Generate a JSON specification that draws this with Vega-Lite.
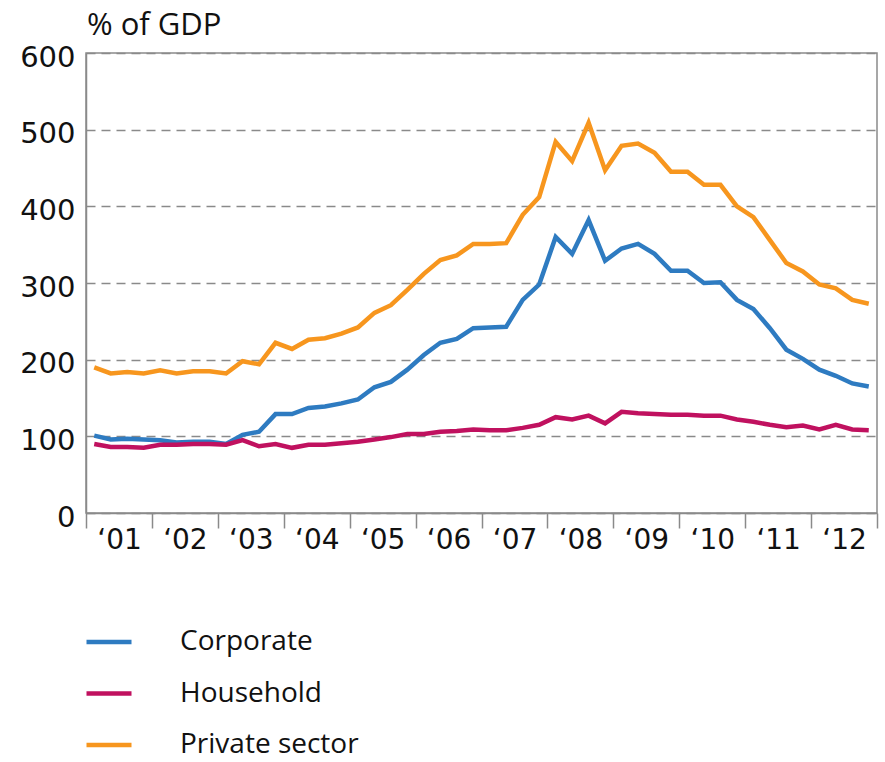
{
  "$schema": "https://vega.github.io/schema/vega-lite/v6.json",
  "autosize": "none",
  "width": 791,
  "height": 460,
  "padding": {"left": 86, "top": 53, "right": 8, "bottom": 249},
  "background": "white",
  "title": {"text": "% of GDP", "anchor": "start", "frame": "group", "orient": "top", "baseline": "alphabetic", "offset": 4, "dx": 1, "dy": 27, "font": "Open Sans", "fontSize": 31, "fontWeight": "normal", "color": "#111"},
  "config": {
    "view": {"stroke": "#8a8a8a", "strokeWidth": 1.5},
    "font": "Open Sans"
  },
  "data": {"values": [
    {"t":2001.125,"s":"Corporate","v":101},{"t":2001.375,"s":"Corporate","v":96},{"t":2001.625,"s":"Corporate","v":97},{"t":2001.875,"s":"Corporate","v":96},
    {"t":2002.125,"s":"Corporate","v":95},{"t":2002.375,"s":"Corporate","v":92},{"t":2002.625,"s":"Corporate","v":93},{"t":2002.875,"s":"Corporate","v":93},
    {"t":2003.125,"s":"Corporate","v":90},{"t":2003.375,"s":"Corporate","v":102},{"t":2003.625,"s":"Corporate","v":106},{"t":2003.875,"s":"Corporate","v":129},
    {"t":2004.125,"s":"Corporate","v":129},{"t":2004.375,"s":"Corporate","v":137},{"t":2004.625,"s":"Corporate","v":139},{"t":2004.875,"s":"Corporate","v":143},
    {"t":2005.125,"s":"Corporate","v":148},{"t":2005.375,"s":"Corporate","v":164},{"t":2005.625,"s":"Corporate","v":171},{"t":2005.875,"s":"Corporate","v":187},
    {"t":2006.125,"s":"Corporate","v":206},{"t":2006.375,"s":"Corporate","v":222},{"t":2006.625,"s":"Corporate","v":227},{"t":2006.875,"s":"Corporate","v":241},
    {"t":2007.125,"s":"Corporate","v":242},{"t":2007.375,"s":"Corporate","v":243},{"t":2007.625,"s":"Corporate","v":278},{"t":2007.875,"s":"Corporate","v":298},
    {"t":2008.125,"s":"Corporate","v":360},{"t":2008.375,"s":"Corporate","v":338},{"t":2008.625,"s":"Corporate","v":382},{"t":2008.875,"s":"Corporate","v":329},
    {"t":2009.125,"s":"Corporate","v":345},{"t":2009.375,"s":"Corporate","v":351},{"t":2009.625,"s":"Corporate","v":338},{"t":2009.875,"s":"Corporate","v":316},
    {"t":2010.125,"s":"Corporate","v":316},{"t":2010.375,"s":"Corporate","v":300},{"t":2010.625,"s":"Corporate","v":301},{"t":2010.875,"s":"Corporate","v":278},
    {"t":2011.125,"s":"Corporate","v":266},{"t":2011.375,"s":"Corporate","v":241},{"t":2011.625,"s":"Corporate","v":213},{"t":2011.875,"s":"Corporate","v":201},
    {"t":2012.125,"s":"Corporate","v":187},{"t":2012.375,"s":"Corporate","v":179},{"t":2012.625,"s":"Corporate","v":169},{"t":2012.875,"s":"Corporate","v":165},

    {"t":2001.125,"s":"Household","v":90},{"t":2001.375,"s":"Household","v":86},{"t":2001.625,"s":"Household","v":86},{"t":2001.875,"s":"Household","v":85},
    {"t":2002.125,"s":"Household","v":89},{"t":2002.375,"s":"Household","v":89},{"t":2002.625,"s":"Household","v":90},{"t":2002.875,"s":"Household","v":90},
    {"t":2003.125,"s":"Household","v":89},{"t":2003.375,"s":"Household","v":95},{"t":2003.625,"s":"Household","v":87},{"t":2003.875,"s":"Household","v":90},
    {"t":2004.125,"s":"Household","v":85},{"t":2004.375,"s":"Household","v":89},{"t":2004.625,"s":"Household","v":89},{"t":2004.875,"s":"Household","v":91},
    {"t":2005.125,"s":"Household","v":93},{"t":2005.375,"s":"Household","v":96},{"t":2005.625,"s":"Household","v":99},{"t":2005.875,"s":"Household","v":103},
    {"t":2006.125,"s":"Household","v":103},{"t":2006.375,"s":"Household","v":106},{"t":2006.625,"s":"Household","v":107},{"t":2006.875,"s":"Household","v":109},
    {"t":2007.125,"s":"Household","v":108},{"t":2007.375,"s":"Household","v":108},{"t":2007.625,"s":"Household","v":111},{"t":2007.875,"s":"Household","v":115},
    {"t":2008.125,"s":"Household","v":125},{"t":2008.375,"s":"Household","v":122},{"t":2008.625,"s":"Household","v":127},{"t":2008.875,"s":"Household","v":117},
    {"t":2009.125,"s":"Household","v":132},{"t":2009.375,"s":"Household","v":130},{"t":2009.625,"s":"Household","v":129},{"t":2009.875,"s":"Household","v":128},
    {"t":2010.125,"s":"Household","v":128},{"t":2010.375,"s":"Household","v":127},{"t":2010.625,"s":"Household","v":127},{"t":2010.875,"s":"Household","v":122},
    {"t":2011.125,"s":"Household","v":119},{"t":2011.375,"s":"Household","v":115},{"t":2011.625,"s":"Household","v":112},{"t":2011.875,"s":"Household","v":114},
    {"t":2012.125,"s":"Household","v":109},{"t":2012.375,"s":"Household","v":115},{"t":2012.625,"s":"Household","v":109},{"t":2012.875,"s":"Household","v":108},

    {"t":2001.125,"s":"Private sector","v":190},{"t":2001.375,"s":"Private sector","v":182},{"t":2001.625,"s":"Private sector","v":184},{"t":2001.875,"s":"Private sector","v":182},
    {"t":2002.125,"s":"Private sector","v":186},{"t":2002.375,"s":"Private sector","v":182},{"t":2002.625,"s":"Private sector","v":185},{"t":2002.875,"s":"Private sector","v":185},
    {"t":2003.125,"s":"Private sector","v":182},{"t":2003.375,"s":"Private sector","v":198},{"t":2003.625,"s":"Private sector","v":194},{"t":2003.875,"s":"Private sector","v":222},
    {"t":2004.125,"s":"Private sector","v":214},{"t":2004.375,"s":"Private sector","v":226},{"t":2004.625,"s":"Private sector","v":228},{"t":2004.875,"s":"Private sector","v":234},
    {"t":2005.125,"s":"Private sector","v":242},{"t":2005.375,"s":"Private sector","v":261},{"t":2005.625,"s":"Private sector","v":271},{"t":2005.875,"s":"Private sector","v":291},
    {"t":2006.125,"s":"Private sector","v":312},{"t":2006.375,"s":"Private sector","v":330},{"t":2006.625,"s":"Private sector","v":336},{"t":2006.875,"s":"Private sector","v":351},
    {"t":2007.125,"s":"Private sector","v":351},{"t":2007.375,"s":"Private sector","v":352},{"t":2007.625,"s":"Private sector","v":389},{"t":2007.875,"s":"Private sector","v":412},
    {"t":2008.125,"s":"Private sector","v":484},{"t":2008.375,"s":"Private sector","v":459},{"t":2008.625,"s":"Private sector","v":509},{"t":2008.875,"s":"Private sector","v":447},
    {"t":2009.125,"s":"Private sector","v":479},{"t":2009.375,"s":"Private sector","v":482},{"t":2009.625,"s":"Private sector","v":470},{"t":2009.875,"s":"Private sector","v":445},
    {"t":2010.125,"s":"Private sector","v":445},{"t":2010.375,"s":"Private sector","v":428},{"t":2010.625,"s":"Private sector","v":428},{"t":2010.875,"s":"Private sector","v":400},
    {"t":2011.125,"s":"Private sector","v":386},{"t":2011.375,"s":"Private sector","v":356},{"t":2011.625,"s":"Private sector","v":326},{"t":2011.875,"s":"Private sector","v":315},
    {"t":2012.125,"s":"Private sector","v":298},{"t":2012.375,"s":"Private sector","v":293},{"t":2012.625,"s":"Private sector","v":278},{"t":2012.875,"s":"Private sector","v":273}
  ]},
  "mark": {"type": "line", "strokeWidth": 4.5, "strokeJoin": "miter", "clip": true},
  "encoding": {
    "x": {
      "field": "t", "type": "quantitative",
      "scale": {"domain": [2001, 2013], "nice": false, "zero": false},
      "axis": {
        "title": null,
        "values": [2001,2002,2003,2004,2005,2006,2007,2008,2009,2010,2011,2012,2013],
        "labelExpr": "datum.value < 2013 ? '‘' + format(datum.value % 100, '02d') : ''",
        "labelOffset": 33,
        "labelFlush": false,
        "labelOverlap": false,
        "labelBaseline": "alphabetic",
        "labelPadding": 20,
        "labelFont": "DejaVu Sans",
        "labelFontSize": 28,
        "labelColor": "#111",
        "tickSize": 15,
        "tickColor": "#8a8a8a",
        "tickWidth": 1.5,
        "domainColor": "#8a8a8a",
        "domainWidth": 1.5,
        "grid": false
      }
    },
    "y": {
      "field": "v", "type": "quantitative",
      "scale": {"domain": [0, 600], "nice": false},
      "axis": {
        "title": null,
        "values": [0,100,200,300,400,500,600],
        "ticks": false,
        "tickSize": 0,
        "labelPadding": 11,
        "labelOffset": 4,
        "labelFont": "DejaVu Sans",
        "labelFontSize": 29,
        "labelColor": "#111",
        "domainColor": "#8a8a8a",
        "domainWidth": 1.5,
        "grid": true,
        "gridColor": "#8a8a8a",
        "gridWidth": 1.5,
        "gridDash": [9, 6]
      }
    },
    "color": {
      "field": "s", "type": "nominal",
      "scale": {"domain": ["Corporate", "Household", "Private sector"], "range": ["#2e7bc1", "#c0115f", "#f7961e"]},
      "legend": {
        "title": null,
        "orient": "none",
        "legendX": -2,
        "legendY": 564,
        "direction": "vertical",
        "padding": 0,
        "symbolType": "stroke",
        "symbolSize": 2025,
        "symbolStrokeWidth": 4.5,
        "labelOffset": 46,
        "labelLimit": 400,
        "labelFont": "Open Sans",
        "labelFontSize": 28,
        "labelColor": "#111",
        "rowPadding": 12.5
      }
    }
  }
}
